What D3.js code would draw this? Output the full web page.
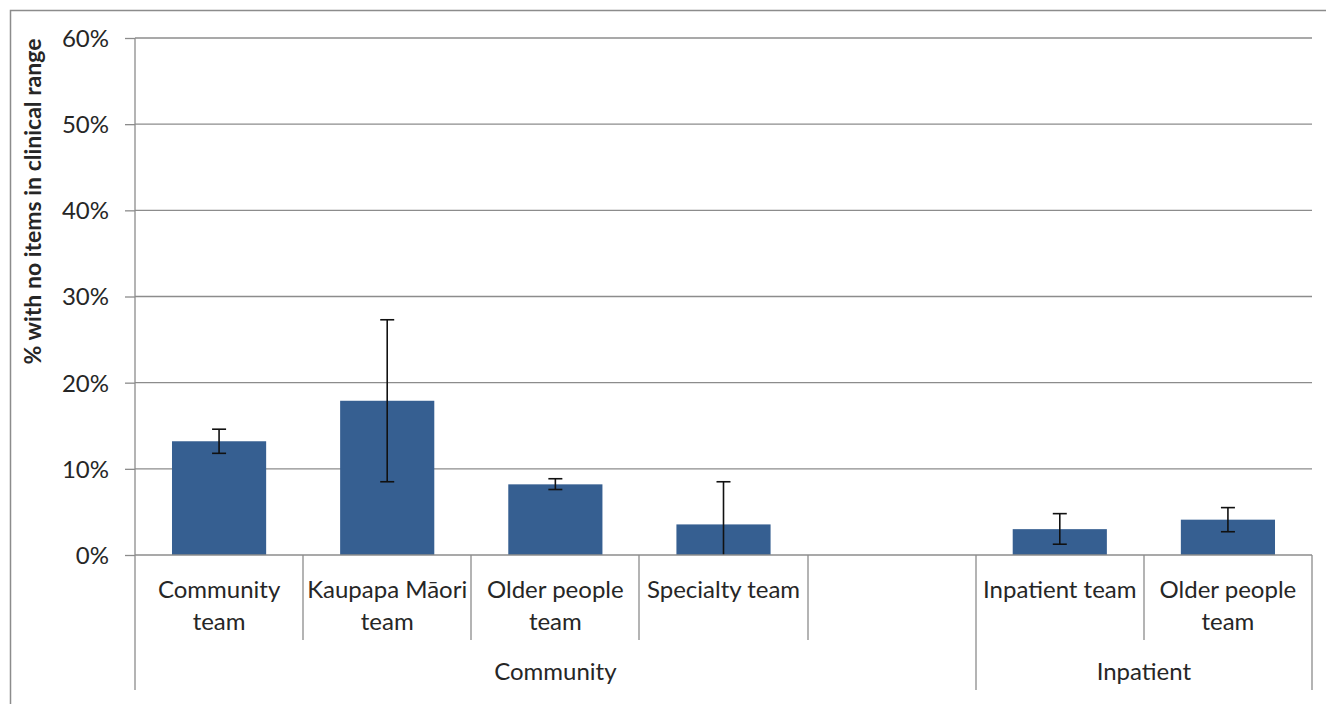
<!DOCTYPE html>
<html>
<head>
<meta charset="utf-8">
<script src="https://cdn.jsdelivr.net/npm/d3@7"></script>
<style>
  html, body { margin: 0; padding: 0; background: #fff; }
  svg { display: block; }
  text { font-family: Lato, "Open Sans", "DejaVu Sans", sans-serif; fill: #262626; }
</style>
</head>
<body>
<svg id="chart" width="1326" height="704"></svg>
<script>
// ---- data ----
const categories = ["Community team", "Kaupapa Māori team", "Older people team", "Specialty team", "", "Inpatient team", "Older people team"];
const categoryLines = [["Community", "team"], ["Kaupapa Māori", "team"], ["Older people", "team"], ["Specialty team"], [], ["Inpatient team"], ["Older people", "team"]];
const values = [13.2, 17.9, 8.2, 3.55, null, 3.0, 4.1];
const upperCI = [14.6, 27.3, 8.85, 8.5, null, 4.8, 5.5];
const lowerCI = [11.8, 8.5, 7.6, -1.4, null, 1.25, 2.7];
const groupNames = ["Community", "Inpatient"];
const groupStart = [0, 5];
const groupEnd = [4, 6];
const yTicks = [0, 10, 20, 30, 40, 50, 60];
const yTitle = "% with no items in clinical range";

// ---- layout ----
const svg = d3.select("#chart");
const pLeft = 135, pRight = 1312, pTop = 38, pBottom = 555;
const idx = categories.map((d, i) => i);

const x = d3.scaleBand().domain(idx).range([pLeft, pRight]).paddingInner(0.44).paddingOuter(0.22);
const y = d3.scaleLinear().domain([0, 60]).range([pBottom, pTop]);
const step = x.step();
const slotLeft = i => x(i) - x.paddingOuter() * step;
const slotRight = i => slotLeft(i) + step;
const gridColor = "#8c8c8c";

// outer border
svg.append("rect").attr("x", 10.5).attr("y", 10.5).attr("width", 1400).attr("height", 800)
  .attr("fill", "none").attr("stroke", gridColor).attr("stroke-width", 1.5);

svg.append("defs").append("clipPath").attr("id", "plotclip")
  .append("rect").attr("x", pLeft).attr("y", pTop - 2).attr("width", pRight - pLeft).attr("height", pBottom - pTop + 2);

// y axis
const yAxis = d3.axisLeft(y).tickValues(yTicks).tickFormat(d => d + "%").tickSize(10).tickPadding(16);
const gy = svg.append("g").attr("transform", `translate(${pLeft},0)`).call(yAxis);
gy.select(".domain").remove();
gy.selectAll(".tick line").attr("stroke", gridColor).attr("stroke-width", 1.3);
gy.selectAll(".tick text").style("font-size", "24px").attr("fill", "#262626").attr("dy", "0.35em");

// gridlines
svg.append("g").selectAll("line").data(yTicks.filter(d => d > 0)).join("line")
  .attr("x1", pLeft).attr("x2", pRight).attr("y1", d => y(d)).attr("y2", d => y(d))
  .attr("stroke", gridColor).attr("stroke-width", 1.3);

// bars
const barData = idx.filter(i => values[i] != null);
svg.append("g").selectAll("rect").data(barData).join("rect")
  .attr("x", i => x(i)).attr("width", x.bandwidth())
  .attr("y", i => y(values[i])).attr("height", i => y(0) - y(values[i]))
  .attr("fill", "#365f91");

// error bars
const eg = svg.append("g").attr("clip-path", "url(#plotclip)").attr("stroke", "#111").attr("stroke-width", 1.6);
eg.selectAll("line.v").data(barData).join("line").attr("class", "v")
  .attr("x1", i => x(i) + x.bandwidth() / 2).attr("x2", i => x(i) + x.bandwidth() / 2)
  .attr("y1", i => y(upperCI[i])).attr("y2", i => y(lowerCI[i]));
const caps = [];
barData.forEach(i => { caps.push([i, upperCI[i]]); if (lowerCI[i] >= 0) caps.push([i, lowerCI[i]]); });
eg.selectAll("line.c").data(caps).join("line").attr("class", "c")
  .attr("x1", d => x(d[0]) + x.bandwidth() / 2 - 7).attr("x2", d => x(d[0]) + x.bandwidth() / 2 + 7)
  .attr("y1", d => y(d[1])).attr("y2", d => y(d[1]));

// x axis baseline
svg.append("line").attr("x1", pLeft).attr("x2", pRight).attr("y1", pBottom).attr("y2", pBottom)
  .attr("stroke", gridColor).attr("stroke-width", 1.3);
// left axis line
svg.append("line").attr("x1", pLeft).attr("x2", pLeft).attr("y1", pTop).attr("y2", 690)
  .attr("stroke", gridColor).attr("stroke-width", 1.3);

// category dividers
const groupBounds = new Set();
groupStart.forEach(s => groupBounds.add(s));
groupEnd.forEach(e => groupBounds.add(e + 1));
const divs = d3.range(1, categories.length + 1);
const divX = i => Math.round(i === categories.length ? slotRight(i - 1) : slotLeft(i));
svg.append("g").selectAll("line").data(divs).join("line")
  .attr("x1", divX).attr("x2", divX)
  .attr("y1", pBottom).attr("y2", i => groupBounds.has(i) ? 690 : 640)
  .attr("stroke", gridColor).attr("stroke-width", 1.3);

// category labels
const lab = svg.append("g");
idx.forEach(i => {
  const cx = x(i) + x.bandwidth() / 2;
  categoryLines[i].forEach((t, k) => {
    lab.append("text").attr("x", cx).attr("y", 590 + k * 32).attr("dy", "0.35em")
      .attr("text-anchor", "middle").style("font-size", "24px").text(t);
  });
});

// group labels
groupNames.forEach((g, k) => {
  const cx = (slotLeft(groupStart[k]) + slotRight(groupEnd[k])) / 2;
  svg.append("text").attr("x", cx).attr("y", 672).attr("dy", "0.35em")
    .attr("text-anchor", "middle").style("font-size", "24px").text(g);
});

// y title
svg.append("text").attr("transform", `translate(33,${(pTop + 365) / 2}) rotate(-90)`)
  .attr("text-anchor", "middle").attr("dy", "0.35em")
  .style("font-size", "23px").style("font-weight", "bold").text(yTitle);
</script>
</body>
</html>
